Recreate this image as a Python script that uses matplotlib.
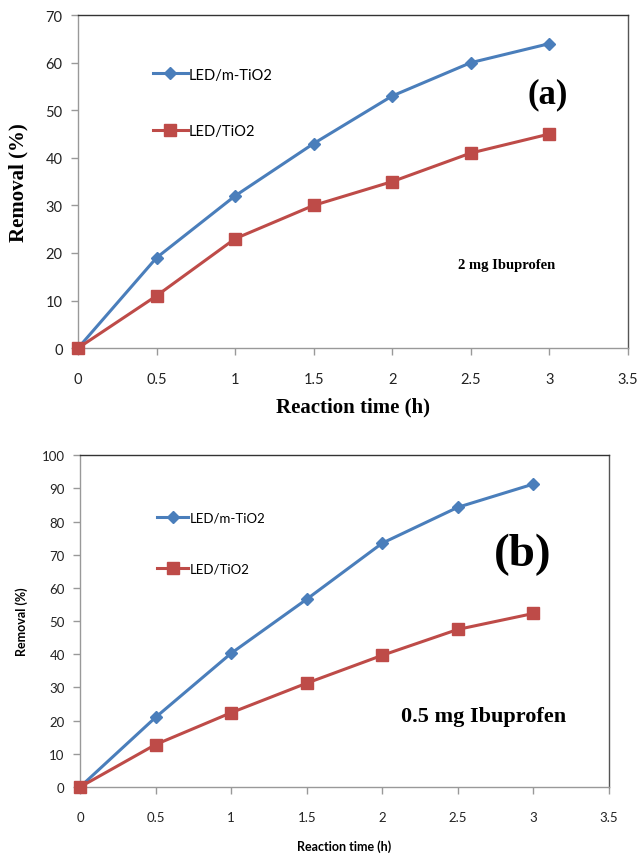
import numpy as np
import matplotlib
matplotlib.use("Agg")
import matplotlib.pyplot as plt

# dane
czas = [0, 0.5, 1, 1.5, 2, 2.5, 3]
# (a) 2 mg ibuprofenu
a_mtio2 = [0, 19, 32, 43, 53, 60, 64]
a_tio2 = [0, 11, 23, 30, 35, 41, 45]
# (b) 0.5 mg ibuprofenu
b_mtio2 = [0, 21, 40.3, 56.6, 73.5, 84.3, 91.3]
b_tio2 = [0, 12.8, 22.4, 31.3, 39.7, 47.5, 52.3]

etykiety = ["LED/m-TiO2", "LED/TiO2"]
niebieski = "#4A7EBB"
czerwony = "#BE4B48"
sans = "Lato"
serif = "Liberation Serif"

fig = plt.figure(figsize=(6.4, 8.62), dpi=100)
ax1 = fig.add_axes([0.1219, 0.595, 0.859, 0.3863])
ax2 = fig.add_axes([0.125, 0.0858, 0.8266, 0.385])


def rysuj(ax, y1, y2, ymax, ykrok, tick_fs, leg_fs, leg_xy):
    ax.plot(czas, y1, color=niebieski, lw=2.2, marker="D", ms=6.5,
            label=etykiety[0], clip_on=False, zorder=3)
    ax.plot(czas, y2, color=czerwony, lw=2.2, marker="s", ms=8,
            label=etykiety[1], clip_on=False, zorder=3)
    ax.set_xlim(0, 3.5)
    ax.set_ylim(0, ymax)
    ax.set_xticks(np.arange(0, 3.51, 0.5))
    ax.set_xticklabels(["0", "0.5", "1", "1.5", "2", "2.5", "3", "3.5"])
    ax.set_yticks(np.arange(0, ymax + 1, ykrok))
    for lab in ax.get_xticklabels() + ax.get_yticklabels():
        lab.set_fontfamily(sans)
        lab.set_fontsize(tick_fs)
        lab.set_color("#222222")
    ax.tick_params(axis="x", direction="out", length=5, width=1,
                   color="#999999", pad=12)
    ax.tick_params(axis="y", direction="out", length=5, width=1,
                   color="#999999", pad=6)
    ax.spines["left"].set_color("#999999")
    ax.spines["bottom"].set_color("#999999")
    ax.spines["top"].set_color("#333333")
    ax.spines["right"].set_color("#555555")
    for s in ax.spines.values():
        s.set_linewidth(1.0)
    ax.legend(loc="upper left", bbox_to_anchor=leg_xy, frameon=False,
              prop={"family": sans, "size": leg_fs}, labelspacing=2.9,
              handlelength=2.4, handletextpad=0.1, borderaxespad=0)


rysuj(ax1, a_mtio2, a_tio2, 70, 10, 10.5, 10.5, (0.125, 0.86))
rysuj(ax2, b_mtio2, b_tio2, 100, 10, 9.5, 9.5, (0.135, 0.845))

# (a)
ax1.set_xlabel("Reaction time (h)", family=serif, fontweight="bold",
               fontsize=15, labelpad=8)
ax1.set_ylabel("Removal (%)", family=serif, fontweight="bold",
               fontsize=15, labelpad=12)
ax1.text(2.99, 53.5, "(a)", family=serif, fontweight="bold", fontsize=25,
         ha="center", va="center")
ax1.text(2.73, 17.5, "2 mg Ibuprofen", family=serif, fontweight="bold",
         fontsize=10.5, ha="center", va="center")

# (b)
ax2.set_xlabel("Reaction time (h)", family=sans, fontweight="bold",
               fontsize=9, labelpad=12)
ax2.set_ylabel("Removal (%)", family=sans, fontweight="bold",
               fontsize=9, labelpad=10)
ax2.text(2.93, 70.2, "(b)", family=serif, fontweight="bold", fontsize=34,
         ha="center", va="center")
ax2.text(2.67, 21.4, "0.5 mg Ibuprofen", family=serif, fontweight="bold",
         fontsize=16, ha="center", va="center")

fig.savefig("out.png", dpi=100)
